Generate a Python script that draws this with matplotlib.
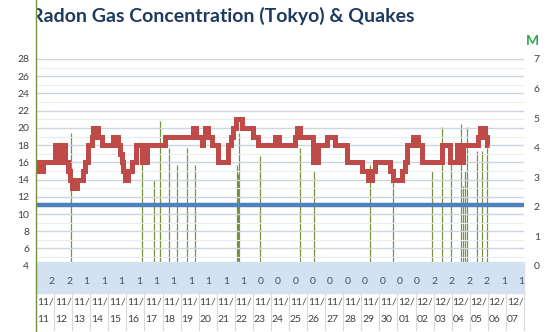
"""Radon gas concentration (Tokyo) with quake magnitudes, 11/11 - 12/07."""

import matplotlib.pyplot as plt
from matplotlib.lines import Line2D
from matplotlib.patches import Rectangle

# ---- data --------------------------------------------------------------
dates = ['11/11', '11/12', '11/13', '11/14', '11/15', '11/16', '11/17',
         '11/18', '11/19', '11/20', '11/21', '11/22', '11/23', '11/24',
         '11/25', '11/26', '11/27', '11/28', '11/29', '11/30', '12/01',
         '12/02', '12/03', '12/04', '12/05', '12/06', '12/07']

# row of numbers shown in the band under the plot
daily_counts = [2, 2, 1, 1, 1, 1, 1, 1, 1, 1, 1, 1, 0, 0,
                0, 0, 0, 0, 0, 0, 0, 0, 2, 2, 2, 2, 1, 1]

# radon level steps: day offset (from 11/11 00:00) where a level starts
radon_day = [0.0, 0.13, 0.40, 1.05, 1.16, 1.22, 1.44, 1.47, 1.60, 1.79,
             1.88, 1.98, 2.25, 2.62, 2.71, 2.89, 3.08, 3.17, 3.45, 3.64,
             4.28, 4.55, 4.65, 4.74, 4.83, 4.93, 5.11, 5.30, 5.51, 5.85,
             6.13, 7.14, 8.71, 8.85, 9.17, 9.26, 9.35, 9.54, 9.72, 10.09,
             10.64, 10.77, 10.92, 11.07, 11.38, 12.03, 12.30, 13.23, 13.46, 14.33,
             14.46, 14.61, 15.35, 15.62, 16.09, 16.55, 17.19, 18.02, 18.39, 18.58,
             18.76, 19.59, 19.77, 20.24, 20.42, 20.51, 20.88, 21.16, 21.34, 22.45,
             22.91, 23.28, 23.38, 23.46, 23.55, 23.63, 24.48, 24.56, 24.85, 24.94]
radon_level = [16, 15, 16, 18, 16, 18, 16, 18, 16, 15,
               14, 13, 14, 15, 16, 18, 19, 20, 19, 18,
               19, 18, 17, 16, 15, 14, 15, 16, 18, 16,
               18, 19, 20, 19, 18, 19, 20, 19, 18, 16,
               18, 19, 20, 21, 20, 19, 18, 19, 18, 19,
               20, 19, 16, 18, 19, 18, 16, 15, 14, 15,
               16, 15, 14, 15, 16, 18, 19, 18, 16, 18,
               16, 18, 16, 18, 16, 18, 19, 20, 19, 18]
radon_end_day = 25.07
baseline_level = 11

# quakes: day offset and magnitude
quake_day = [1.95, 5.85, 6.55, 6.88, 7.38, 7.80, 8.37, 8.82, 11.11, 11.16,
             11.25, 12.41, 14.59, 15.37, 18.50, 19.77, 21.93, 22.48, 22.95, 23.50,
             23.60, 23.71, 23.87, 24.42, 24.70, 24.97]
quake_mag = [4.5, 3.5, 2.9, 4.9, 4.0, 3.4, 4.0, 3.4, 3.4, 3.1,
             4.5, 3.7, 4.0, 3.2, 3.4, 2.9, 3.2, 4.7, 4.0, 4.8,
             2.7, 3.2, 4.7, 3.9, 3.9, 4.0]

# ---- figure ------------------------------------------------------------
W, H = 558, 332
FONT = 'Lato'
TXT = '#404040'

fig = plt.figure(figsize=(W / 100, H / 100), dpi=100)


def fx(px):
    return px / W


def fy(py):
    return (H - py) / H


x0, x1 = 36, 524
ax = fig.add_axes([fx(x0), fy(265.7), fx(x1 - x0), (265.7 - 59) / H])
ax2 = ax.twinx()
ax.set_zorder(ax2.get_zorder() + 1)
ax.patch.set_visible(False)

n_days = len(dates)
ax.set_xlim(0, n_days)
ax.set_ylim(4, 28)
ax2.set_ylim(0, 7)

# light blue band under the plot and the date row separators
fig.patches.append(Rectangle((fx(x0), fy(293)), fx(x1 - x0), (293 - 262) / H,
                             transform=fig.transFigure, color='#D3E1F1', zorder=0))
col_w = (x1 - x0) / n_days
for i in range(n_days + 1):
    xx = fx(x0 + i * col_w)
    fig.add_artist(Line2D([xx, xx], [fy(330), fy(293)], transform=fig.transFigure,
                          color='#D9D9D9', lw=0.8))

# gridlines
for v in range(4, 29):
    major = v % 2 == 0
    ax.axhline(v, color='#CCD5E0' if major else '#E8EDF3', lw=1.0 if major else 0.8, zorder=0)

# quakes (right axis)
ax2.vlines(quake_day, 0, quake_mag, color='#77933C', lw=0.9)

# radon step line + baseline
ax.axhline(baseline_level, color='#4F81BD', lw=3.2, zorder=3)
xs = radon_day + [radon_end_day]
ys = radon_level + [radon_level[-1]]
ax.step(xs, ys, where='post', color='#BE4B48', lw=3.6, zorder=4,
        solid_joinstyle='miter', solid_capstyle='butt')

for a in (ax, ax2):
    for s in a.spines.values():
        s.set_visible(False)
    a.set_xticks([])

ax.set_yticks(range(4, 29, 2))
ax.tick_params(axis='y', length=0, pad=5, labelsize=7.5, labelcolor=TXT)
ax2.set_yticks(range(0, 8))
ax2.tick_params(axis='y', length=0, pad=7, labelsize=7.5, labelcolor=TXT)
for lab in ax.get_yticklabels() + ax2.get_yticklabels():
    lab.set_family(FONT)

# number row in the band
step = 17.4
for k, c in enumerate(daily_counts):
    fig.text(fx(51.7 + k * step), fy(281), str(c), ha='center', va='center',
             fontsize=7.5, color='#3D5370', family=FONT)

# date labels
for i, d in enumerate(dates):
    top, bot = d.split('/')
    left = fx(x0 + i * col_w + 0.8)
    fig.text(left, fy(302), top + '/', ha='left', va='center', fontsize=7.5,
             color=TXT, family=FONT)
    fig.text(left, fy(319), bot, ha='left', va='center', fontsize=7.5,
             color=TXT, family=FONT)

# title, clipped on the left at the axis line as in the original
fig.text(fx(31), fy(21.5), 'Radon Gas Concentration (Tokyo) & Quakes', ha='left',
         va='baseline', fontsize=14, fontweight='bold', color='#1F3A5F', family=FONT,
         zorder=1)
fig.patches.append(Rectangle((0, fy(32)), fx(x0), 32 / H, transform=fig.transFigure,
                             color='white', zorder=2))
fig.text(fx(532), fy(45), 'M', ha='center', va='baseline', fontsize=10,
         fontweight='bold', color='#2EA84F', family=FONT)

# green left axis line running full height
fig.add_artist(Line2D([fx(x0), fx(x0)], [0, 1], transform=fig.transFigure,
                      color='#77933C', lw=1.0, zorder=3))

fig.savefig('out.png', dpi=100)
